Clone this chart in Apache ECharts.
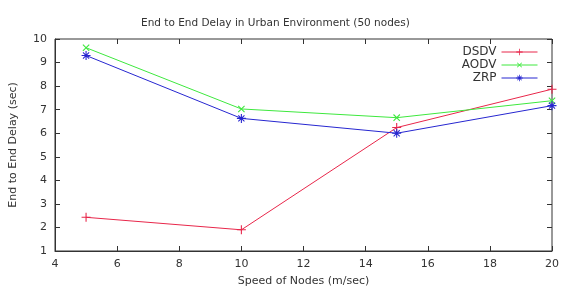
<!DOCTYPE html>
<html>
<head>
<meta charset="utf-8">
<script src="https://cdn.jsdelivr.net/npm/echarts@6/dist/echarts.min.js"></script>
<style>
  html, body { margin: 0; padding: 0; background: #fff; }
  #main { width: 577px; height: 292px; }
</style>
</head>
<body>
<div id="main"></div>
<script>
// speed of nodes (m/sec)
var speeds = [5, 10, 15, 20];
// end to end delay (sec)
var dsdv = [2.43, 1.9, 6.24, 7.87];
var aodv = [9.63, 7.03, 6.66, 7.38];
var zrp = [9.3, 6.63, 6.0, 7.17];

var names = ['DSDV', 'AODV', 'ZRP'];
var colors = ['#e8264a', '#3ee83e', '#2626d0'];

// marker shapes like gnuplot: +, x, *
var plusPath = 'path://M4.4,0h1.2v10h-1.2zM0,4.4h10v1.2h-10z';
var starPath = 'path://M4.4,0h1.2v10h-1.2zM0,4.4h10v1.2h-10zM1.2,2L2,1.2L8.8,8L8,8.8zM8,1.2L8.8,2L2,8.8L1.2,8z';

function pairs(vals) {
    return speeds.map(function (s, i) { return [s, vals[i]]; });
}

var chart = echarts.init(document.getElementById('main'));

var tickStyle = { inside: true, length: 5, lineStyle: { color: '#333' } };
var labelStyle = { color: '#333', fontSize: 11, fontFamily: 'DejaVu Sans' };

var option = {
    animation: false,
    title: {
        text: 'End to End Delay in Urban Environment (50 nodes)',
        left: 136,
        top: 13,
        textStyle: { fontSize: 10.5, fontWeight: 'normal', color: '#333', fontFamily: 'DejaVu Sans' }
    },
    legend: {
        orient: 'vertical',
        right: 34,
        top: 41,
        align: 'right',
        itemWidth: 36,
        itemHeight: 8,
        itemGap: 1,
        lineStyle: { width: 1 },
        textStyle: { fontSize: 12, color: '#333', fontFamily: 'DejaVu Sans' },
        data: names
    },
    grid: {
        left: 54, right: 25, top: 39, bottom: 41,
        show: true, borderColor: '#333', borderWidth: 1
    },
    xAxis: [{
        type: 'value', min: 4, max: 20, interval: 2,
        name: 'Speed of Nodes (m/sec)', nameLocation: 'middle', nameGap: 25,
        nameTextStyle: labelStyle,
        axisLine: { show: true, lineStyle: { color: '#333' } },
        axisTick: tickStyle,
        axisLabel: labelStyle,
        splitLine: { show: false }
    }, {
        type: 'value', min: 4, max: 20, interval: 2, position: 'top',
        axisLine: { show: false }, axisTick: tickStyle,
        axisLabel: { show: false }, splitLine: { show: false }
    }],
    yAxis: [{
        type: 'value', min: 1, max: 10, interval: 1,
        name: 'End to End Delay (sec)', nameLocation: 'middle', nameGap: 36,
        nameTextStyle: labelStyle,
        axisLine: { show: true, lineStyle: { color: '#333' } },
        axisTick: tickStyle,
        axisLabel: labelStyle,
        splitLine: { show: false }
    }, {
        type: 'value', min: 1, max: 10, interval: 1, position: 'right',
        axisLine: { show: false }, axisTick: tickStyle,
        axisLabel: { show: false }, splitLine: { show: false }
    }],
    series: [{
        name: 'DSDV', type: 'line', data: pairs(dsdv),
        symbol: plusPath, symbolSize: 9,
        lineStyle: { width: 1, color: colors[0] }, itemStyle: { color: colors[0] }
    }, {
        name: 'AODV', type: 'line', data: pairs(aodv),
        symbol: plusPath, symbolSize: 9, symbolRotate: 45,
        lineStyle: { width: 1, color: colors[1] }, itemStyle: { color: colors[1] }
    }, {
        name: 'ZRP', type: 'line', data: pairs(zrp),
        symbol: starPath, symbolSize: 9,
        lineStyle: { width: 1, color: colors[2] }, itemStyle: { color: colors[2] }
    }]
};

chart.setOption(option);
</script>
</body>
</html>
